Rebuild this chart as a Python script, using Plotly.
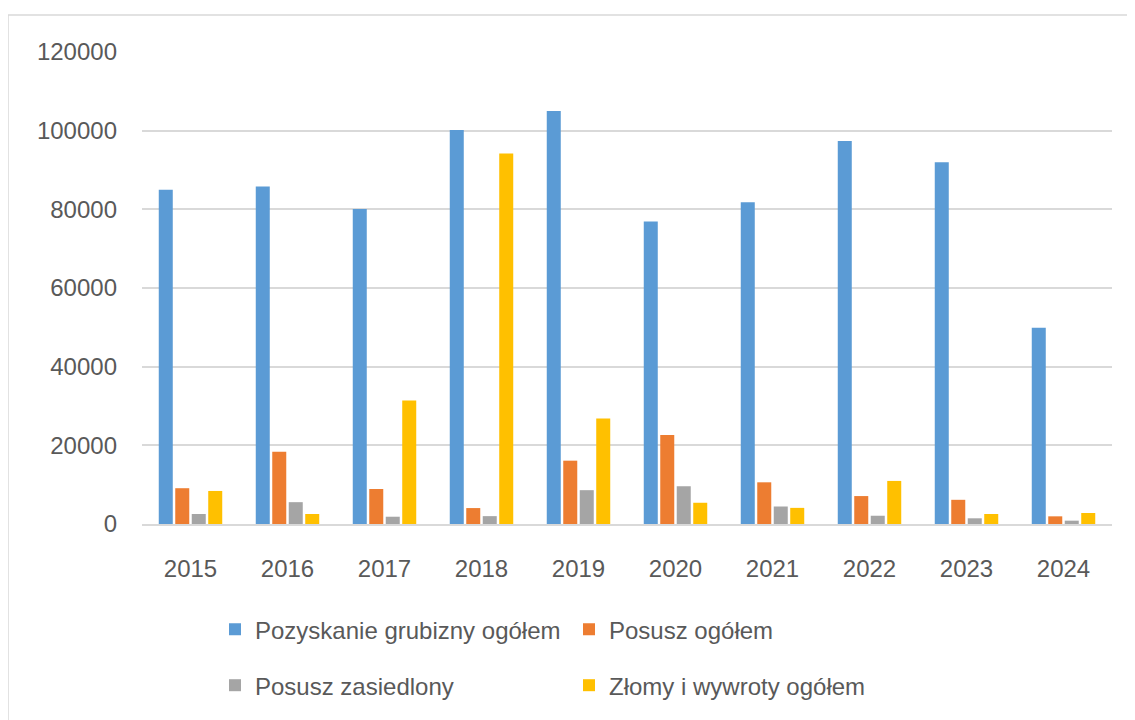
import plotly.graph_objects as go

years = ["2015", "2016", "2017", "2018", "2019", "2020", "2021", "2022", "2023", "2024"]
pozyskanie = [85000, 85800, 80100, 100200, 105000, 76900, 81800, 97400, 92000, 49900]
posusz = [9100, 18400, 8900, 4050, 16100, 22600, 10600, 7100, 6150, 1950]
zasiedlony = [2550, 5550, 1850, 2000, 8600, 9600, 4450, 2100, 1450, 850]
zlomy = [8400, 2550, 31400, 94200, 26800, 5400, 4100, 10950, 2550, 2800]

names = ["Pozyskanie grubizny ogółem", "Posusz ogółem", "Posusz zasiedlony", "Złomy i wywroty ogółem"]
colors = ["#5B9BD5", "#ED7D31", "#A5A5A5", "#FFC000"]
series = [pozyskanie, posusz, zasiedlony, zlomy]
legends = ["legend", "legend", "legend2", "legend2"]

FONT = "Liberation Sans"
TXT = "#595959"

fig = go.Figure()
for name, col, vals, lg in zip(names, colors, series, legends):
    fig.add_trace(go.Bar(x=years, y=vals, name=name, marker_color=col,
                         marker_line_width=0, legend=lg))

OFF = 8  # page offset of the figure in the browser
W, H = 1135 - OFF, 720 - OFF
L = 142 - OFF
T = 52 - OFF
R = W - (1112 - OFF)
B = H - (524.3 - OFF)
ph = H - T - B
pw = W - L - R

def px_x(p):
    return (p - OFF - L) / pw

def px_y(p):
    return (H - B - (p - OFF)) / ph

leg_common = dict(orientation="h", xanchor="left", yanchor="middle",
                  entrywidth=309, entrywidthmode="pixels", font=dict(size=24, color=TXT),
                  bgcolor="rgba(0,0,0,0)", tracegroupgap=0, itemwidth=30)

fig.update_layout(
    width=W, height=H,
    margin=dict(l=L, r=R, t=T, b=B),
    paper_bgcolor="white", plot_bgcolor="white",
    barmode="group", bargap=0.32, bargroupgap=0.15,
    font=dict(family=FONT, size=24, color=TXT),
    legend=dict(x=px_x(215), y=px_y(630), **leg_common),
    legend2=dict(x=px_x(215), y=px_y(686), **leg_common),
    xaxis=dict(showgrid=False, showline=True, linecolor="#d9d9d9", linewidth=1.5,
               ticks="", ticklabelstandoff=22, tickfont=dict(size=24, color=TXT)),
    yaxis=dict(range=[0, 120000], dtick=20000, tickformat="d", showgrid=True,
               gridcolor="#d9d9d9", gridwidth=1.5, zeroline=False, showline=False,
               ticks="", ticklabelstandoff=24, tickfont=dict(size=24, color=TXT)),
    shapes=[dict(type="rect", xref="paper", yref="paper",
                 x0=px_x(8), x1=px_x(1300), y0=px_y(800), y1=px_y(15),
                 line=dict(color="#d9d9d9", width=1.5), fillcolor="rgba(0,0,0,0)", layer="below")],
)

fig.write_html("out.html")
